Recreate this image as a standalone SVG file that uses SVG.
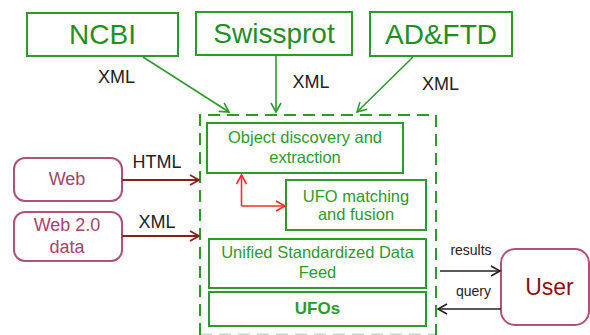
<svg xmlns="http://www.w3.org/2000/svg" width="590" height="335" viewBox="0 0 590 335">
<defs>
<style>
.g{fill:#fff;stroke:#2e9a2e;stroke-width:2}
.gt{fill:#1f8f1f;font-family:"Liberation Sans",Arial,sans-serif;text-anchor:middle}
.big{font-size:28px}
.mid{font-size:16.5px;fill:#2e9a2e}
.p{fill:#fff;stroke:#b0507e;stroke-width:2}
.pt{fill:#a3456f;font-family:"Liberation Sans",Arial,sans-serif;font-size:18px;text-anchor:middle}
.lbl{fill:#222;font-family:"Liberation Sans",Arial,sans-serif;font-size:18px;text-anchor:middle}
.sm{fill:#222;font-family:"Liberation Sans",Arial,sans-serif;font-size:14px;text-anchor:middle}
.ga{stroke:#2e9a2e;stroke-width:1.6;fill:none;marker-end:url(#mg)}
.ra{stroke:#ff2a2a;stroke-width:1.6;fill:none}
.da{stroke:#8b1c1c;stroke-width:2;fill:none;marker-end:url(#md)}
.ka{stroke:#222;stroke-width:1.6;fill:none;marker-end:url(#mk)}
.dash{fill:none;stroke:#2e9a2e;stroke-width:2;stroke-dasharray:12,7}
</style>
<marker id="mg" markerUnits="userSpaceOnUse" markerWidth="14" markerHeight="14" refX="11" refY="7" orient="auto"><path d="M2,2 L11,7 L2,12" fill="none" stroke="#2e9a2e" stroke-width="1.6"/></marker>
<marker id="mr" markerUnits="userSpaceOnUse" markerWidth="14" markerHeight="14" refX="11" refY="7" orient="auto"><path d="M2,2 L11,7 L2,12" fill="none" stroke="#ff2a2a" stroke-width="1.6"/></marker>
<marker id="md" markerUnits="userSpaceOnUse" markerWidth="14" markerHeight="14" refX="11" refY="7" orient="auto"><path d="M2,2 L11,7 L2,12" fill="none" stroke="#8b1c1c" stroke-width="1.8"/></marker>
<marker id="mk" markerUnits="userSpaceOnUse" markerWidth="14" markerHeight="14" refX="11" refY="7" orient="auto"><path d="M2,2 L11,7 L2,12" fill="none" stroke="#222" stroke-width="1.6"/></marker>
</defs>
<rect width="590" height="335" fill="#fff"/>

<g id="container">
<path class="dash" d="M200,335 L200,115 L436,115 L436,335"/>
<path class="dash" d="M200,334.5 L436,334.5" stroke-opacity="0.3"/>
</g>

<g id="ncbi"><rect class="g" x="27" y="13" width="151" height="43"/><text class="gt big" x="102.5" y="43.5">NCBI</text></g>
<g id="swissprot"><rect class="g" x="196" y="12" width="156" height="43"/><text class="gt big" x="274" y="42.5">Swissprot</text></g>
<g id="adftd"><rect class="g" x="370" y="12" width="142" height="44"/><text class="gt big" x="441" y="43.5">AD&amp;FTD</text></g>

<g id="object"><rect class="g" x="207" y="123" width="196" height="50"/><text class="gt mid" x="305" y="143">Object discovery and</text><text class="gt mid" x="305" y="162.5">extraction</text></g>
<g id="ufo-matching"><rect class="g" x="286" y="180" width="140" height="50"/><text class="gt mid" x="356" y="201.5">UFO matching</text><text class="gt mid" x="356" y="220">and fusion</text></g>
<g id="unified"><rect class="g" x="209" y="239" width="217" height="49"/><text class="gt mid" x="317.5" y="257.5">Unified Standardized Data</text><text class="gt mid" x="317.5" y="277.5">Feed</text></g>
<g id="ufos"><rect class="g" x="209" y="292" width="217" height="34"/><text class="gt mid" x="317.5" y="314" font-weight="bold" style="font-size:17px">UFOs</text></g>

<g id="web"><rect class="p" x="14" y="158" width="108" height="43" rx="11"/><text class="pt" x="67" y="185">Web</text></g>
<g id="web2"><rect class="p" x="14" y="212" width="108" height="49" rx="11"/><text class="pt" x="67" y="230.5">Web 2.0</text><text class="pt" x="67" y="252.5">data</text></g>
<g id="user"><rect class="p" x="501" y="249" width="88" height="76" rx="14"/><text x="549.5" y="295" fill="#8b1010" font-family="Liberation Sans,Arial,sans-serif" font-size="23" text-anchor="middle">User</text></g>

<g id="connectors">
<path class="ga" d="M143,57 L229,112"/>
<path class="ga" d="M276,56 L276,112"/>
<path class="ga" d="M413,57 L357,112"/>
<text class="lbl" x="116.5" y="82.5">XML</text>
<text class="lbl" x="311" y="88">XML</text>
<text class="lbl" x="440.5" y="90">XML</text>
<path class="ra" d="M241.5,206 L241.5,175" marker-end="url(#mr)"/>
<path class="ra" d="M241.5,206 L285,206" marker-end="url(#mr)"/>
<path class="da" d="M122,180 L199,180"/>
<path class="da" d="M122,236 L199,236"/>
<text class="lbl" x="157" y="168">HTML</text>
<text class="lbl" x="157" y="227.5">XML</text>
<path class="ka" d="M440,271 L500,271"/>
<path class="ka" d="M501,309 L438,309"/>
<text class="sm" x="471" y="255">results</text>
<text class="sm" x="473.5" y="296">query</text>
</g>
</svg>
